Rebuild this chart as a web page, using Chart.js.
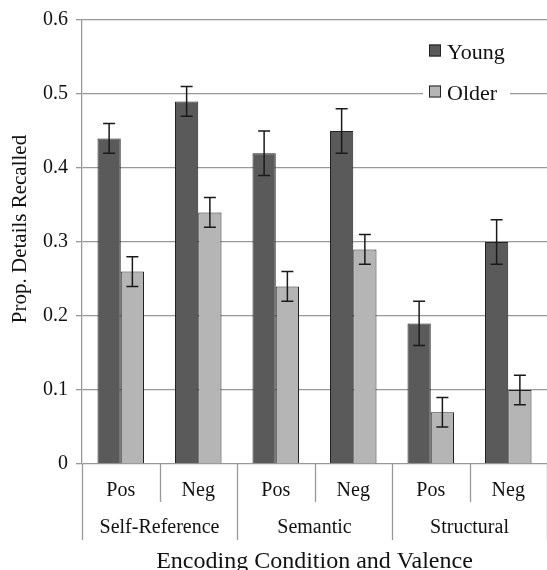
<!DOCTYPE html>
<html>
<head>
<meta charset="utf-8">
<script src="https://cdn.jsdelivr.net/npm/chart.js@4/dist/chart.umd.min.js"></script>
<style>
    html, body { margin: 0; padding: 0; background: #fff; }
    #wrap { width: 547px; height: 570px; position: relative; }
</style>
</head>
<body>
<div id="wrap"><canvas id="chart" width="547" height="570"></canvas></div>
<script>
// --- Data ---
const categories = ['Pos', 'Neg', 'Pos', 'Neg', 'Pos', 'Neg'];
const groups = ['Self-Reference', 'Semantic', 'Structural'];
const youngValues = [0.44, 0.49, 0.42, 0.45, 0.19, 0.30];
const youngErrors = [0.02, 0.02, 0.03, 0.03, 0.03, 0.03];
const olderValues = [0.26, 0.34, 0.24, 0.29, 0.07, 0.10];
const olderErrors = [0.02, 0.02, 0.02, 0.02, 0.02, 0.02];
const yTicks = [0, 0.1, 0.2, 0.3, 0.4, 0.5, 0.6];

const SERIF = '"Liberation Serif", "DejaVu Serif", serif';
const GRID = '#999999';

// error bars on top of each bar
const errorBars = {
    id: 'errorBars',
    afterDatasetsDraw(chart) {
        const ctx = chart.ctx;
        const y = chart.scales.y;
        const errs = [youngErrors, olderErrors];
        ctx.save();
        ctx.strokeStyle = '#1a1a1a';
        ctx.lineWidth = 1.5;
        chart.data.datasets.forEach((ds, i) => {
            chart.getDatasetMeta(i).data.forEach((bar, j) => {
                const v = ds.data[j], e = errs[i][j];
                const top = y.getPixelForValue(v + e);
                const bot = y.getPixelForValue(v - e);
                const x = bar.x;
                ctx.beginPath();
                ctx.moveTo(x, top); ctx.lineTo(x, bot);
                ctx.moveTo(x - 6, top); ctx.lineTo(x + 6, top);
                ctx.moveTo(x - 6, bot); ctx.lineTo(x + 6, bot);
                ctx.stroke();
            });
        });
        ctx.restore();
    }
};

// two-level category axis, axis titles and legend box
const labelsAndLegend = {
    id: 'labelsAndLegend',
    afterDraw(chart) {
        const ctx = chart.ctx;
        const x = chart.scales.x;
        const area = chart.chartArea;
        const step = x.getPixelForValue(1) - x.getPixelForValue(0);
        const edge = i => x.getPixelForValue(i) - step / 2;
        ctx.save();
        ctx.strokeStyle = GRID;
        ctx.lineWidth = 1.3;
        for (let i = 0; i <= categories.length; i++) {
            const px = Math.round(edge(i)) + 0.5;
            const bottom = i % 2 === 0 ? 540 : 502;
            ctx.beginPath();
            ctx.moveTo(px, area.bottom);
            ctx.lineTo(px, bottom);
            ctx.stroke();
        }
        ctx.fillStyle = '#111';
        ctx.textAlign = 'center';
        ctx.textBaseline = 'middle';
        ctx.font = '20px ' + SERIF;
        categories.forEach((c, i) => ctx.fillText(c, x.getPixelForValue(i), 491));
        groups.forEach((g, k) => ctx.fillText(g, (edge(2 * k) + edge(2 * k + 2)) / 2, 528));
        ctx.font = '24px ' + SERIF;
        ctx.fillText('Encoding Condition and Valence', (area.left + area.right) / 2, 562);

        // y title
        ctx.save();
        ctx.translate(20, 229);
        ctx.rotate(-Math.PI / 2);
        ctx.font = '21px ' + SERIF;
        ctx.fillText('Prop. Details Recalled', 0, 0);
        ctx.restore();

        // legend
        ctx.fillStyle = '#fff';
        ctx.fillRect(423, 36, 87, 72);
        chart.data.datasets.forEach((ds, i) => {
            const cy = 50.5 + i * 41;
            ctx.fillStyle = ds.backgroundColor;
            ctx.fillRect(429, cy - 6, 12, 12);
            ctx.strokeStyle = '#222';
            ctx.lineWidth = 1;
            ctx.strokeRect(429.5, cy - 5.5, 11, 11);
            ctx.fillStyle = '#111';
            ctx.textAlign = 'left';
            ctx.font = '22px ' + SERIF;
            ctx.fillText(ds.label, 447, cy + 3);
        });
        ctx.restore();
    }
};

new Chart(document.getElementById('chart'), {
    type: 'bar',
    data: {
        labels: categories,
        datasets: [
            { label: 'Young', data: youngValues, backgroundColor: '#5a5a5a', borderColor: '#222', borderWidth: 1 },
            { label: 'Older', data: olderValues, backgroundColor: '#b5b5b5', borderColor: '#222', borderWidth: 1 }
        ]
    },
    options: {
        responsive: false,
        animation: false,
        layout: { padding: { top: 16, right: -4, left: 0, bottom: 0 } },
        datasets: { bar: { categoryPercentage: 0.6, barPercentage: 1.0 } },
        plugins: { legend: { display: false }, tooltip: { enabled: false } },
        scales: {
            x: {
                ticks: { display: false },
                grid: { display: false, drawTicks: false },
                border: { display: false },
                afterFit: s => { s.height = 106; }
            },
            y: {
                min: 0,
                max: 0.6,
                afterBuildTicks: s => { s.ticks = yTicks.map(v => ({ value: v })); },
                ticks: {
                    color: '#111',
                    padding: 8,
                    font: { family: SERIF, size: 20 },
                    callback: v => v === 0 ? '0' : v.toFixed(1)
                },
                grid: { color: GRID, lineWidth: 1.3, tickLength: 6 },
                border: { color: GRID, width: 1.3 },
                afterFit: s => { s.width = 82; }
            }
        }
    },
    plugins: [errorBars, labelsAndLegend]
});
</script>
</body>
</html>
